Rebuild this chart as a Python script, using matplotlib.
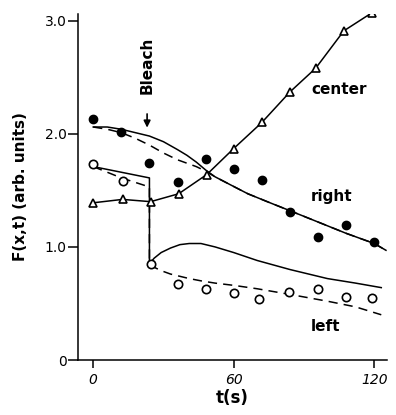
import numpy as np
import matplotlib
matplotlib.use("Agg")
import matplotlib.pyplot as plt

# measured points
t_right = [0, 12, 24, 36, 48, 60, 72, 84, 96, 108, 120]
f_right = [2.13, 2.02, 1.74, 1.57, 1.78, 1.69, 1.59, 1.31, 1.09, 1.19, 1.04]

t_left = [0, 12.5, 24.5, 36, 48, 60, 71, 83.5, 96, 108, 119]
f_left = [1.73, 1.58, 0.85, 0.67, 0.63, 0.59, 0.54, 0.60, 0.63, 0.56, 0.55]

t_center = [0, 12.5, 24.5, 36.5, 48.5, 60, 72, 84, 95, 107, 119]
f_center = [1.39, 1.42, 1.40, 1.47, 1.64, 1.87, 2.10, 2.37, 2.58, 2.91, 3.07]

# model curves
t_right_fit = [0, 6, 12, 18, 24, 30, 36, 40, 44, 48, 52, 58.5, 66, 75.5, 84, 96, 108, 120, 125]
f_right_solid = [2.06, 2.06, 2.04, 2.01, 1.98, 1.93, 1.86, 1.81, 1.75, 1.68, 1.62, 1.55, 1.47,
                 1.39, 1.32, 1.22, 1.12, 1.03, 0.97]
f_right_dash = [2.06, 2.04, 2.01, 1.96, 1.90, 1.83, 1.77, 1.74, 1.71, 1.67, 1.62, 1.55, 1.47,
                1.39, 1.32, 1.22, 1.12, 1.03, 0.97]

t_left_fit = [0, 12, 24, 24, 26, 29, 33, 37, 41, 46, 52, 60, 70, 84, 100, 112, 123]
f_left_solid = [1.71, 1.66, 1.61, 0.85, 0.90, 0.95, 0.99, 1.02, 1.03, 1.03, 1.00, 0.95, 0.88,
                0.80, 0.72, 0.68, 0.64]
f_left_dash = [1.71, 1.61, 1.53, 0.85, 0.82, 0.79, 0.76, 0.74, 0.72, 0.70, 0.68, 0.66, 0.63,
               0.58, 0.52, 0.47, 0.40]

fig = plt.figure(figsize=(3.96, 4.15), dpi=100)
ax = fig.add_axes([0.197, 0.1325, 0.78, 0.834])

lw = 1.1
ax.plot(t_right_fit, f_right_solid, '-', color='black', lw=lw)
ax.plot(t_right_fit, f_right_dash, color='black', lw=lw, dashes=(6, 4))
ax.plot(t_left_fit, f_left_solid, '-', color='black', lw=lw)
ax.plot(t_left_fit, f_left_dash, color='black', lw=lw, dashes=(6, 4))
ax.plot(t_center, f_center, '-', color='black', lw=lw)

ax.plot(t_right, f_right, 'o', color='black', ms=6, zorder=5)
ax.plot(t_left, f_left, 'o', mfc='white', mec='black', mew=1.2, ms=6, zorder=5)
ax.plot(t_center, f_center, '^', mfc='white', mec='black', mew=1.2, ms=6, zorder=5)

ax.set_xlim(-6.5, 125.4)
ax.set_ylim(0, 3.06)
ax.set_xticks([0, 60, 120])
ax.set_xticklabels(['0', '60', '120'], style='italic', fontsize=10)
ax.set_yticks([0, 1, 2, 3])
ax.set_yticklabels(['0', '1.0', '2.0', '3.0'], fontsize=10)
ax.tick_params(axis='y', length=7, width=1.1, pad=1)
ax.tick_params(axis='x', length=6, width=1.1, pad=3)
for s in ['top', 'right']:
    ax.spines[s].set_visible(False)
for s in ['left', 'bottom']:
    ax.spines[s].set_linewidth(1.1)

ax.set_xlabel('t(s)', fontsize=12, fontweight='bold', labelpad=2)
ax.set_ylabel('F(x,t) (arb. units)', fontsize=11, fontweight='bold', labelpad=12)

ax.text(23, 2.35, 'Bleach', rotation=90, fontsize=11, fontweight='bold',
        ha='center', va='bottom')
ax.annotate('', xy=(23, 2.03), xytext=(23, 2.20),
            arrowprops=dict(arrowstyle='-|>', color='black', lw=1.2, mutation_scale=10))

ax.text(93, 2.39, 'center', fontsize=11, fontweight='bold', ha='left', va='center')
ax.text(93, 1.45, 'right', fontsize=11, fontweight='bold', ha='left', va='center')
ax.text(93, 0.30, 'left', fontsize=11, fontweight='bold', ha='left', va='center')

fig.savefig('out.png', dpi=100)
